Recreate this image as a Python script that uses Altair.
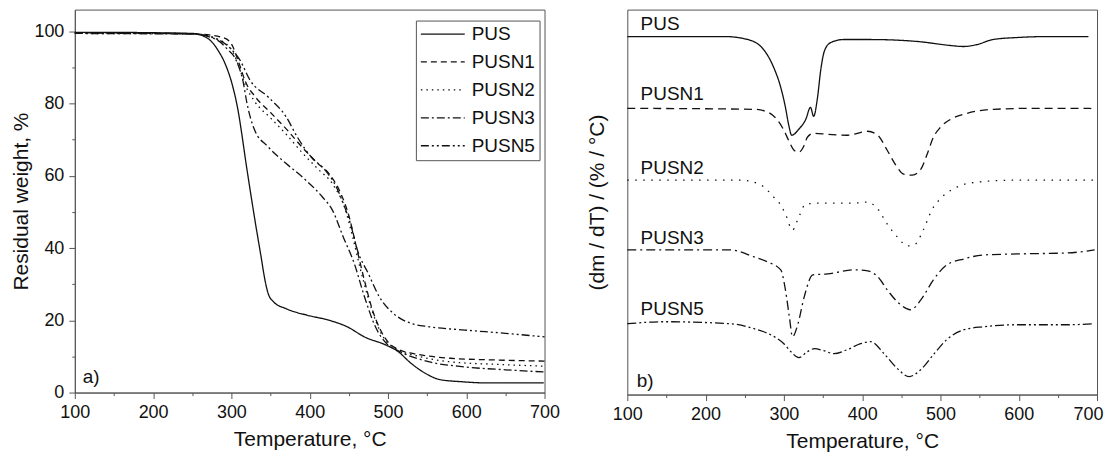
import altair as alt
import pandas as pd

FONT = "Liberation Sans"
series = ["PUS", "PUSN1", "PUSN2", "PUSN3", "PUSN5"]

# ---- panel a) TG curves: temperature (°C) and residual weight (%) ----
tg_T = {
    "PUS":   [100, 150, 200, 250, 270, 283, 293, 302, 309, 313, 318, 324, 331, 338, 343, 347, 354, 370, 397, 425, 448, 470, 498, 512, 530, 548, 566, 594, 621, 699],
    "PUSN1": [100, 200, 260, 290, 300, 310, 318, 330, 350, 370, 390, 410, 425, 440, 450, 460, 470, 480, 490, 500, 515, 540, 580, 640, 700],
    "PUSN2": [100, 250, 280, 300, 310, 318, 330, 350, 370, 390, 410, 430, 445, 455, 465, 475, 485, 495, 510, 540, 580, 640, 700],
    "PUSN3": [100, 250, 280, 295, 306, 315, 320, 329, 347, 370, 393, 416, 429, 443, 457, 470, 484, 498, 512, 553, 598, 650, 700],
    "PUSN5": [100, 250, 280, 300, 311, 324, 347, 370, 384, 402, 420, 434, 443, 452, 461, 475, 489, 507, 530, 553, 598, 650, 700],
}
tg_W = {
    "PUS":   [99.7, 99.7, 99.6, 99.4, 98, 94.7, 90.5, 84.5, 77.5, 72, 64.5, 56, 46.5, 37.5, 31, 27.4, 25.1, 23.2, 21.4, 20, 18.2, 15.4, 13.1, 11.5, 8, 5.3, 3.6, 3.0, 2.7, 2.7],
    "PUSN1": [99.6, 99.5, 99.2, 98.2, 96.5, 91, 86, 82, 77.5, 73, 68, 63.5, 60.5, 55, 49, 40, 31, 23, 17.5, 14, 11.8, 10.5, 9.5, 9, 8.7],
    "PUSN2": [99.4, 99.3, 98, 95, 90, 85, 80.5, 76, 71.5, 66.5, 62, 57.5, 51, 43, 34, 26, 19.5, 15, 12.2, 10, 8.5, 7.8, 7.3],
    "PUSN3": [99.4, 99.2, 97.8, 95, 92, 86, 80, 73, 68, 63.4, 59.2, 54.2, 50.5, 43, 35.7, 26.5, 18.2, 13.6, 11.7, 8.5, 7.1, 6.3, 5.7],
    "PUSN5": [99.5, 99.3, 98, 95, 92, 86.4, 81.8, 76.3, 70.8, 65.2, 61.5, 56.9, 52.3, 46.8, 39.4, 32.9, 26.5, 21.9, 19.1, 18.2, 17.3, 16.4, 15.4],
}

# ---- panel b) DTG curves (arbitrary units, stacked) ----
dtg_T = {
    "PUS":   [100, 224, 254, 275, 287, 296, 302, 306, 310, 319, 328, 334, 338, 343, 347, 352, 360, 376, 411, 471, 513, 529, 547, 567, 598, 640, 689],
    "PUSN1": [100, 262, 280, 292, 300, 306, 313, 319, 326, 330, 338, 356, 381, 407, 420, 432, 443, 453, 464, 475, 483, 491, 500, 513, 534, 568, 619, 691, 697],
    "PUSN2": [100, 245, 271, 287, 296, 302, 311, 319, 328, 347, 389, 407, 420, 432, 445, 458, 468, 478, 489, 502, 521, 547, 598, 695],
    "PUSN3": [100, 232, 262, 279, 296, 302, 307, 311, 318, 326, 337, 356, 390, 407, 420, 432, 445, 462, 475, 491, 508, 530, 555, 598, 662, 697],
    "PUSN5": [100, 147, 232, 262, 283, 300, 309, 319, 330, 339, 351, 364, 381, 398, 411, 428, 445, 460, 475, 491, 508, 530, 555, 598, 662, 695],
}
dtg_v = {
    "PUS":   [359, 359, 356, 345, 328, 308, 288, 271, 260, 266, 276, 288, 279, 298, 325, 345, 353, 356, 356, 354, 350, 349, 351, 356, 358, 359, 359],
    "PUSN1": [287, 286, 283, 275, 265, 255, 245, 243, 250, 258, 262, 261, 260, 264, 260, 245, 230, 221, 220, 226, 241, 258, 268, 276, 282, 286, 287, 287, 283],
    "PUSN2": [215, 215, 210, 198, 190, 181, 165, 178, 191, 192, 192, 193, 186, 171, 158, 149, 151, 165, 185, 198, 208, 213, 215, 215],
    "PUSN3": [145, 145, 138, 133, 125, 105, 78, 58, 71, 98, 120, 121, 125, 124, 118, 105, 93, 85, 95, 115, 130, 136, 140, 141, 142, 145],
    "PUSN5": [71, 73, 71, 66, 60, 51, 43, 37, 43, 46, 44, 41, 45, 51, 53, 41, 26, 18, 25, 40, 55, 65, 68, 70, 70, 71],
}

# curve name labels in panel b)
label_T = [117, 117, 117, 117, 117]
label_v = [366, 295, 221, 151, 80]
panel_a_label = ("a)", 110, 2.6)
panel_b_label = ("b)", 112, 8)

dash_styles = [[1, 0], [6, 4], [1.5, 4], [8, 3, 2, 3], [8, 3, 2, 3, 2, 3]]
dash_styles_b = [[1, 0], [8, 5], [1.5, 6.5], [9, 4, 2, 4], [9, 3, 2, 3, 2, 3]]

tg_df = pd.DataFrame(
    [{"series": s, "T": t, "W": w} for s in series for t, w in zip(tg_T[s], tg_W[s])]
)
dtg_df = pd.DataFrame(
    [{"series": s, "T": t, "v": v} for s in series for t, v in zip(dtg_T[s], dtg_v[s])]
)
lab_df = pd.DataFrame({"name": series, "T": label_T, "v": label_v})
a_df = pd.DataFrame({"t": [panel_a_label[0]], "T": [panel_a_label[1]], "W": [panel_a_label[2]]})
b_df = pd.DataFrame({"t": [panel_b_label[0]], "T": [panel_b_label[1]], "v": [panel_b_label[2]]})


def x_axis(last_flush):
    kw = dict(
        title="Temperature, °C",
        values=list(range(100, 701, 50)),
        labelExpr="datum.value % 100 === 0 ? datum.label : ''",
        tickSize={"condition": {"test": "datum.value % 100 !== 0", "value": 3}, "value": 6},
        grid=False, labelFontSize=18, titleFontSize=21, labelPadding=5, titlePadding=7,
        labelFlush=False, labelOverlap=False,
    )
    if last_flush:
        kw["labelAlign"] = {"condition": {"test": "datum.value === 700", "value": "right"}, "value": "center"}
        kw["labelOffset"] = {"condition": {"test": "datum.value === 700", "value": 6}, "value": 0}
    return alt.Axis(**kw)


x_scale = alt.Scale(domain=[100, 700], nice=False, zero=False)
x_enc_a = alt.X("T:Q", scale=x_scale, axis=x_axis(False))
x_enc_b = alt.X("T:Q", scale=x_scale, axis=x_axis(True))

y_axis_a = alt.Axis(
    title="Residual weight, %",
    values=list(range(0, 101, 10)),
    labelExpr="datum.value % 20 === 0 ? datum.label : ''",
    tickSize={"condition": {"test": "datum.value % 20 !== 0", "value": 3}, "value": 6},
    grid=False, labelFontSize=18, titleFontSize=21, labelPadding=5, titlePadding=2,
    labelOverlap=False,
)
y_enc_a = alt.Y("W:Q", scale=alt.Scale(domain=[0, 106], nice=False, zero=False), axis=y_axis_a)

lines_a = alt.Chart(tg_df).mark_line(color="#111", strokeWidth=1.3, interpolate="monotone").encode(
    x=x_enc_a, y=y_enc_a,
    strokeDash=alt.StrokeDash(
        "series:N",
        scale=alt.Scale(domain=series, range=dash_styles),
        legend=alt.Legend(
            title=None, orient="none", legendX=342, legendY=11,
            symbolType="stroke", symbolSize=1936, clipHeight=19,
            symbolStrokeWidth=1.3, symbolStrokeColor="#111",
            labelFontSize=19, labelFont=FONT, labelColor="#111",
            labelOffset=6, rowPadding=8, padding=4,
            strokeColor="#555", fillColor="white",
        ),
    ),
)
text_a = alt.Chart(a_df).mark_text(align="left", baseline="alphabetic", fontSize=19, font=FONT, color="#111").encode(
    x=x_enc_a, y=y_enc_a, text="t:N"
)
left = alt.layer(lines_a, text_a).properties(width=471, height=384)

y_enc_b = alt.Y(
    "v:Q", scale=alt.Scale(domain=[0, 386], nice=False, zero=False),
    axis=alt.Axis(title="(dm / dT) / (% / °C)", labels=False, ticks=False, domain=False,
                  grid=False, titleFontSize=21, titlePadding=20),
)
lines_b = alt.Chart(dtg_df).mark_line(color="#111", strokeWidth=1.3, interpolate="monotone").encode(
    x=x_enc_b, y=y_enc_b,
    strokeDash=alt.StrokeDash("series:N", scale=alt.Scale(domain=series, range=dash_styles_b), legend=None),
)
labels_b = alt.Chart(lab_df).mark_text(align="left", baseline="alphabetic", fontSize=19, font=FONT, color="#111").encode(
    x=x_enc_b, y=y_enc_b, text="name:N"
)
text_b = alt.Chart(b_df).mark_text(align="left", baseline="alphabetic", fontSize=19, font=FONT, color="#111").encode(
    x=x_enc_b, y=y_enc_b, text="t:N"
)
right = alt.layer(lines_b, labels_b, text_b).properties(width=471, height=386)

chart = (
    alt.hconcat(left, right, spacing=25)
    .resolve_scale(strokeDash="independent")
    .properties(padding={"left": 2, "top": 0, "right": 0, "bottom": 0}, background="white")
    .configure_view(stroke="#555", strokeWidth=1)
    .configure_axis(
        domainColor="#555", tickColor="#555", labelColor="#111", titleColor="#111",
        labelFont=FONT, titleFont=FONT, titleFontWeight="normal", domainWidth=1, tickWidth=1,
    )
)

chart.save("out.html", embed_options={"renderer": "svg", "actions": False})
